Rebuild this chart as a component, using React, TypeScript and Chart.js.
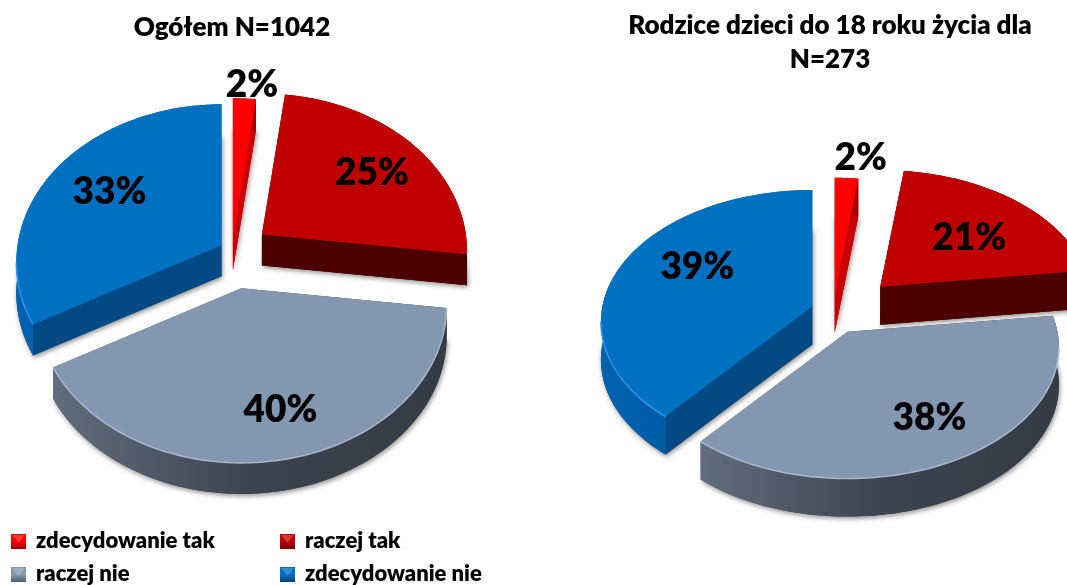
import React, { useEffect, useRef } from "react";
import { Chart, registerables } from "chart.js";

Chart.register(...registerables);

const categories = ["zdecydowanie tak", "raczej tak", "raczej nie", "zdecydowanie nie"];
const valuesTotal = [2, 25, 40, 33];
const valuesParents = [2, 21, 38, 39];
const titleTotal = "Ogółem N=1042";
const titleParents = ["Rodzice dzieci do 18 roku życia dla", "N=273"];

const faceColors = ["#ff0000", "#c00000", "#8497b0", "#0070c0"];
const innerWallColors = ["#c80000", "#4c0000", "#3c444f", "#034a85"];
const outerWallColors = [
  ["#c80000", "#a00000"],
  ["#4c0000", "#3c0000"],
  ["#626d7d", "#3c444f", "#343b45"],
  ["#0062b0", "#00508f"],
];
const rimColors = [null, null, "#a9b8ce", "#2f95ee"];

const explodeTotal = [7, 17.5, 24.3, 6];
const explodeParents = [13, 30.5, 17, 10];

const nudgeTotal = [[0, 0], [2, 1], [0, 0], [0, 0]];
const nudgeParents = [[2, 0], [5, 3], [-1, 1], [1, 0]];

const labelShiftTotal = [[19, -156], [110, -63], [39, 120], [-112, -55]];
const labelShiftParents = [[26, -138], [89, -51], [82, 84], [-115, -42]];

const FONT = "Lato, Carlito, sans-serif";

type Geo = { left: number; width: number; cx: number; cy: number; rx: number; ry: number; q: number; depth: number };

const geoTotal: Geo = { left: -60, width: 584, cx: 232, cy: 250, rx: 204, ry: 156, q: 0.107, depth: 31 };
const geoParents: Geo = { left: 593, width: 474, cx: 831, cy: 311, rx: 210, ry: 130, q: 0.115, depth: 38 };

function drawLegend(ctx: CanvasRenderingContext2D, labels: string[], colors: string[]) {
  const slots = [[11, 534], [280, 534], [11, 567], [280, 567]];
  labels.forEach((label, i) => {
    const [x, y] = slots[i];
    const s = 15;
    ctx.fillStyle = colors[i];
    ctx.fillRect(x, y, s, s);
    const shade = ctx.createLinearGradient(0, y + s * 0.5, 0, y + s);
    shade.addColorStop(0, "rgba(0,0,0,0)");
    shade.addColorStop(1, "rgba(0,0,0,0.4)");
    ctx.fillStyle = shade;
    ctx.fillRect(x, y, s, s);
    ctx.fillStyle = "rgba(255,255,255,0.22)";
    ctx.beginPath();
    ctx.moveTo(x + 1, y + 1);
    ctx.lineTo(x + s - 1, y + 1);
    ctx.lineTo(x + s / 2, y + s * 0.6);
    ctx.closePath();
    ctx.fill();
    ctx.fillStyle = "#000";
    ctx.font = `800 22px ${FONT}`;
    ctx.textAlign = "left";
    ctx.textBaseline = "middle";
    ctx.fillText(label, x + 25, y + 7);
  });
}

function pie3d(geo: Geo, labelShift: number[][], nudge: number[][], legend: boolean) {
  return {
    id: "pie3d",
    beforeDatasetsDraw(chart: any) {
      const ctx: CanvasRenderingContext2D = chart.ctx;
      const meta = chart.getDatasetMeta(0);
      const project = (u: number, v: number) => {
        const w = 1 - geo.q * v;
        return [geo.cx + (geo.rx * u) / w, geo.cy + (geo.ry * v) / w];
      };
      ctx.save();
      ctx.translate(-geo.left, 0);
      const slices = meta.data.map((arc: any, i: number) => {
        const mid = (arc.startAngle + arc.endAngle) / 2;
        const off = (arc.options.offset || 0) / 100;
        const ox = Math.cos(mid) * off;
        const oy = Math.sin(mid) * off;
        const raw = project(ox, oy);
        const apex = [raw[0] + nudge[i][0], raw[1] + nudge[i][1]];
        const pts: number[][] = [];
        const ang: number[] = [];
        const n = 80;
        for (let k = 0; k <= n; k++) {
          const a = arc.startAngle + ((arc.endAngle - arc.startAngle) * k) / n;
          const p = project(Math.cos(a), Math.sin(a));
          pts.push([apex[0] + p[0] - geo.cx, apex[1] + p[1] - geo.cy]);
          ang.push(a);
        }
        return { i, apex, pts, ang, oy };
      });
      const order = [...slices].sort((a, b) => a.oy - b.oy);
      const trace = (points: number[][]) => {
        ctx.beginPath();
        points.forEach((p, k) => (k ? ctx.lineTo(p[0], p[1]) : ctx.moveTo(p[0], p[1])));
        ctx.closePath();
      };
      const down = (p: number[]) => [p[0], p[1] + geo.depth];
      order.forEach((s: any) => {
        const silhouette = [s.apex, ...s.pts];
        ctx.save();
        ctx.shadowColor = "rgba(0,0,0,0.45)";
        ctx.shadowBlur = 5;
        ctx.shadowOffsetX = 1;
        ctx.shadowOffsetY = 2;
        ctx.fillStyle = innerWallColors[s.i];
        trace([...silhouette.map(down)]);
        ctx.fill();
        ctx.restore();

        // inner walls
        ctx.fillStyle = innerWallColors[s.i];
        const first = s.pts[0];
        const last = s.pts[s.pts.length - 1];
        trace([s.apex, first, down(first), down(s.apex)]);
        ctx.fill();
        trace([s.apex, last, down(last), down(s.apex)]);
        ctx.fill();

        // outer wall
        const xs = s.pts.map((p: number[]) => p[0]);
        const minX = Math.min(...xs);
        const maxX = Math.max(...xs);
        const g = ctx.createLinearGradient(minX, 0, maxX === minX ? minX + 1 : maxX, 0);
        const stops = outerWallColors[s.i];
        stops.forEach((c, k) => g.addColorStop(k / (stops.length - 1), c));
        ctx.fillStyle = g;
        trace([...s.pts, ...[...s.pts].reverse().map(down)]);
        ctx.fill();

        // top face
        ctx.fillStyle = meta.controller.getDataset().backgroundColor[s.i];
        trace(silhouette);
        ctx.fill();

        // lit rim
        const rim = rimColors[s.i];
        if (rim) {
          ctx.strokeStyle = rim;
          ctx.lineWidth = 1.5;
          ctx.beginPath();
          let started = false;
          s.pts.forEach((p: number[], k: number) => {
            if (Math.sin(s.ang[k]) > 0.1) {
              if (started) ctx.lineTo(p[0], p[1]);
              else ctx.moveTo(p[0], p[1]);
              started = true;
            }
          });
          ctx.stroke();
        }
      });

      // value labels
      const values = chart.data.datasets[0].data;
      ctx.fillStyle = "#000";
      ctx.font = `800 37px ${FONT}`;
      ctx.textAlign = "center";
      ctx.textBaseline = "middle";
      slices.forEach((s: any) => {
        ctx.fillText(`${values[s.i]}%`, s.apex[0] + labelShift[s.i][0], s.apex[1] + labelShift[s.i][1] + 2);
      });

      if (legend) drawLegend(ctx, chart.data.labels, faceColors);
      ctx.restore();
      return false;
    },
  };
}

function makeChart(canvas: HTMLCanvasElement, values: number[], explode: number[], title: any, geo: Geo, shift: number[][], nudge: number[][], legend: boolean) {
  return new Chart(canvas, {
    type: "pie",
    data: {
      labels: categories,
      datasets: [{ data: values, backgroundColor: faceColors, offset: explode, borderWidth: 0 }],
    },
    options: {
      responsive: false,
      animation: false,
      plugins: {
        legend: { display: false },
        tooltip: { enabled: false },
        title: {
          display: true,
          text: title,
          color: "#000",
          align: "center",
          font: { family: FONT, size: 26, weight: "800", lineHeight: 1.31 },
          padding: { top: Array.isArray(title) ? 9 : 11, bottom: 0 },
        },
      },
    },
    plugins: [pie3d(geo, shift, nudge, legend)],
  } as any);
}

export default function App() {
  const a = useRef<HTMLCanvasElement>(null);
  const b = useRef<HTMLCanvasElement>(null);
  useEffect(() => {
    const c1 = makeChart(a.current!, valuesTotal, explodeTotal, titleTotal, geoTotal, labelShiftTotal, nudgeTotal, true);
    const c2 = makeChart(b.current!, valuesParents, explodeParents, titleParents, geoParents, labelShiftParents, nudgeParents, false);
    return () => {
      c1.destroy();
      c2.destroy();
    };
  }, []);
  const st = (g: Geo): React.CSSProperties => ({ position: "absolute", left: g.left, top: 0, width: g.width, height: 585 });
  return (
    <div style={{ position: "absolute", left: 0, top: 0, width: 1067, height: 585, overflow: "hidden", background: "#fff" }}>
      <canvas ref={a} width={geoTotal.width} height={585} style={st(geoTotal)} />
      <canvas ref={b} width={geoParents.width} height={585} style={st(geoParents)} />
    </div>
  );
}
